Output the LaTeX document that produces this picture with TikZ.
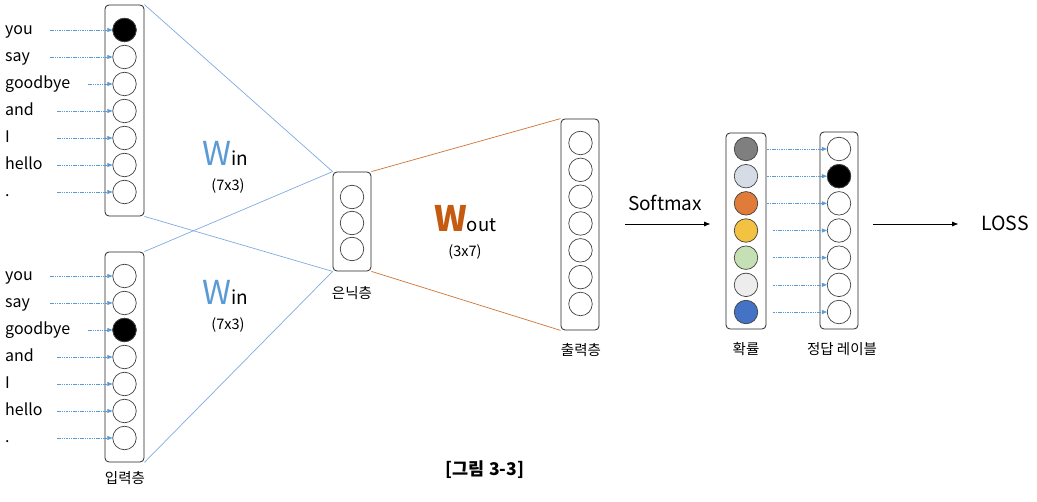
\documentclass[tikz,border=0pt]{standalone}
\usepackage{fontspec}
\setmainfont{Noto Sans CJK KR}
\usepackage{tikz}
\usetikzlibrary{arrows.meta}
\definecolor{winblue}{HTML}{5B9BD5}
\definecolor{wline}{HTML}{7FAADF}
\definecolor{woutor}{HTML}{C55A11}
\definecolor{pgray}{HTML}{7F7F7F}
\definecolor{pslate}{HTML}{D6DCE5}
\definecolor{porange}{HTML}{E07B39}
\definecolor{pgold}{HTML}{F4C242}
\definecolor{pgreen}{HTML}{C5E0B4}
\definecolor{plight}{HTML}{EDEDED}
\definecolor{pblue}{HTML}{4472C4}
\tikzset{unit/.style={circle,draw=black!75,line width=0.7pt,minimum size=23.5pt,inner sep=0pt},
         layerbox/.style={draw=black!85,rounded corners=4pt,line width=0.8pt},
         inline/.style={wline,line width=0.7pt},
         outline/.style={woutor!85,line width=0.7pt},
         feed/.style={winblue,line width=0.6pt,dash pattern=on 1.5pt off 0.8pt,
                      -{Triangle[length=5pt,width=4pt]}},
         flow/.style={black,line width=0.8pt,-{Triangle[length=6pt,width=4.5pt]}},
         word/.style={anchor=base west,font=\fontsize{16}{18}\selectfont,inner sep=0pt},
         tag/.style={font=\fontsize{14.5}{16}\selectfont,inner sep=0pt}}

\begin{document}
\begin{tikzpicture}[x=1pt,y=-1pt]
\useasboundingbox (0,0) rectangle (1037,502);
% layer boxes
\node[layerbox,minimum width=39pt,minimum height=211pt] (inTop) at (124.5,110.5) {};
\node[layerbox,minimum width=39pt,minimum height=210pt] (inBot) at (124.5,357) {};
\node[layerbox,minimum width=38pt,minimum height=99pt] (hid) at (352,221.5) {};
\node[layerbox,minimum width=38pt,minimum height=211pt] (outL) at (580,224.5) {};
\node[layerbox,minimum width=40pt,minimum height=196pt] (prob) at (746,231) {};
\node[layerbox,minimum width=38pt,minimum height=197pt] (ans) at (839,230.5) {};
% weights
\draw[inline] (inTop.north east) -- (hid.north west);
\draw[inline] (inTop.south east) -- (hid.south west);
\draw[inline] (inBot.north east) -- (hid.north west);
\draw[inline] (inBot.south east) -- (hid.south west);
\draw[outline] (hid.north east) -- (outL.north west);
\draw[outline] (hid.south east) -- (outL.south west);
% input words and one-hot units
\foreach \w/\s [count=\i] in {you/50,say/50,goodbye/88,and/57,I/57,hello/57,{.}/57} {
  \pgfmathsetmacro\ya{30+27*(\i-1)}
  \pgfmathsetmacro\yb{276+27*(\i-1)}
  \node[unit] (a-\i) at (124.5,\ya) {};
  \node[unit] (b-\i) at (124.5,\yb) {};
  \node[word] (wa-\i) at (5,\ya+4.5) {\w};
  \node[word] (wb-\i) at (5,\yb+4.5) {\w};
  \coordinate (fa-\i) at (\s,\ya);
  \coordinate (fb-\i) at (\s,\yb);
  \draw[feed] (fa-\i) -- (a-\i);
  \draw[feed] (fb-\i) -- (b-\i);
}
\node[unit,fill=black] at (a-1) {};
\node[unit,fill=black] at (b-3) {};
% hidden and output units
\foreach \i in {1,2,3}
  \node[unit] (h-\i) at (352,{197+26*(\i-1)}) {};
\foreach \i in {1,...,7}
  \node[unit] (o-\i) at (580.5,{143+26.83*(\i-1)}) {};
% probabilities and answer label
\foreach \c/\s [count=\i] in {pgray/1,pslate/1,porange/1,pgold/7,pgreen/7,plight/7,pblue/7} {
  \node[unit,fill=\c] (p-\i) at (746,{149+27.17*(\i-1)}) {};
  \node[unit] (t-\i) at (839,{149+27.17*(\i-1)}) {};
  \draw[feed] ([xshift=\s pt]prob.east |- t-\i) -- (t-\i);
}
\node[unit,fill=black] at (t-2) {};
% weight labels
\node[anchor=base west,inner sep=0pt] (winA) at (202,166)
  {{\color{winblue}\fontsize{33}{33}\selectfont W}{\fontsize{19}{19}\selectfont in}};
\node[tag] (dimA) at (228,186) {(7x3)};
\node[anchor=base west,inner sep=0pt] (winB) at (202,305)
  {{\color{winblue}\fontsize{33}{33}\selectfont W}{\fontsize{19}{19}\selectfont in}};
\node[tag] (dimB) at (228,325) {(7x3)};
\node[anchor=base west,inner sep=0pt] (wout) at (434,232)
  {{\color{woutor}\bfseries\fontsize{35}{35}\selectfont W}{\fontsize{18.5}{19}\selectfont out}};
\node[tag] (dimO) at (465,252) {(3x7)};
% softmax and loss
\node[font=\fontsize{19}{21}\selectfont] (smax) at (665,203) {Softmax};
\coordinate (smA) at (625,224);
\coordinate (smB) at (710,224);
\draw[flow] (smA) -- (smB);
\node[font=\fontsize{19.5}{21}\selectfont] (loss) at (1005,223) {LOSS};
\coordinate (lsA) at (873,224);
\coordinate (lsB) at (958,224);
\draw[flow] (lsA) -- (lsB);
% layer names
\node[tag] (nIn) at (125,478) {입력층};
\node[tag] (nHid) at (352,293) {은닉층};
\node[tag] (nOut) at (581,350) {출력층};
\node[tag] (nProb) at (746,349) {확률};
\node[tag] (nAns) at (842,349) {정답 레이블};
\node[font=\bfseries\fontsize{17.5}{19}\selectfont] (cap) at (485,470) {[그림 3-3]};
\end{tikzpicture}
\end{document}
